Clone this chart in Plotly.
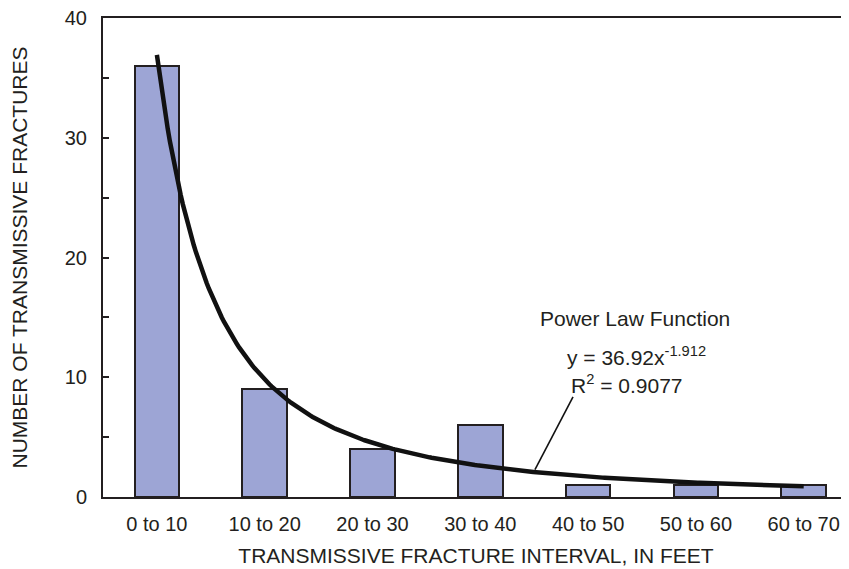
import numpy as np
import plotly.graph_objects as go

categories = ["0 to 10", "10 to 20", "20 to 30", "30 to 40", "40 to 50", "50 to 60", "60 to 70"]
counts = [36, 9, 4, 6, 1, 1, 1]
fit_coef = 36.92
fit_exp = -1.912
r_squared = 0.9077

ink = "#231f20"
font = "Liberation Sans, Arial, sans-serif"

xpos = list(range(len(categories)))
t = np.linspace(1, len(categories), 300)
fit_y = fit_coef * t ** fit_exp

fig = go.Figure()
fig.add_trace(go.Bar(
    x=xpos, y=counts, width=0.413,
    marker=dict(color="#9da5d5", line=dict(color=ink, width=2)),
    showlegend=False, hoverinfo="skip",
))
fig.add_trace(go.Scatter(
    x=t - 1, y=fit_y, mode="lines",
    line=dict(color="#111111", width=4.5),
    showlegend=False, hoverinfo="skip",
))

# annotation text
afont = dict(size=21, color=ink, family=font)
fig.add_annotation(x=4.435, y=14.9, text="Power Law Function", showarrow=False,
                   font=afont, xanchor="center", yanchor="middle")
fig.add_annotation(x=4.45, y=11.8, text=f"y = {fit_coef}x<sup>{fit_exp}</sup>", showarrow=False,
                   font=afont, xanchor="center", yanchor="middle")
fig.add_annotation(x=4.36, y=9.45, text=f"R<sup>2</sup> = {r_squared}", showarrow=False,
                   font=afont, xanchor="center", yanchor="middle")
fig.add_shape(type="line", x0=3.86, y0=8.37, x1=3.507, y1=2.28,
              line=dict(color="#111111", width=1.6))

fig.update_layout(
    width=841, height=561,
    margin=dict(l=95, r=0, t=10, b=72),
    plot_bgcolor="white", paper_bgcolor="white",
    font=dict(family=font, size=20, color=ink),
    bargap=0,
)
fig.update_xaxes(
    range=[-0.5, 6.42], tickvals=xpos, ticktext=categories,
    showline=True, linecolor=ink, linewidth=2, mirror=True,
    ticks="", showgrid=False, zeroline=False, automargin=False,
    tickfont=dict(size=20, color=ink), ticklabelstandoff=8,
    ticklabeloverflow="allow",
    title=dict(text="TRANSMISSIVE FRACTURE INTERVAL, IN FEET", font=dict(size=21, color=ink), standoff=14),
)
fig.update_yaxes(
    range=[0, 40], tickvals=[0, 10, 20, 30, 40],
    showline=True, linecolor=ink, linewidth=2,
    ticks="inside", ticklen=6, tickwidth=2, tickcolor=ink,
    minor=dict(tickvals=[5, 15, 25, 35], ticks="inside", ticklen=6, tickwidth=2, tickcolor=ink),
    showgrid=False, zeroline=False, automargin=False,
    tickfont=dict(size=20, color=ink), ticklabelstandoff=10,
    ticklabeloverflow="allow",
    title=dict(text="NUMBER OF TRANSMISSIVE FRACTURES", font=dict(size=21, color=ink), standoff=40),
)

fig.write_html("out.html")
